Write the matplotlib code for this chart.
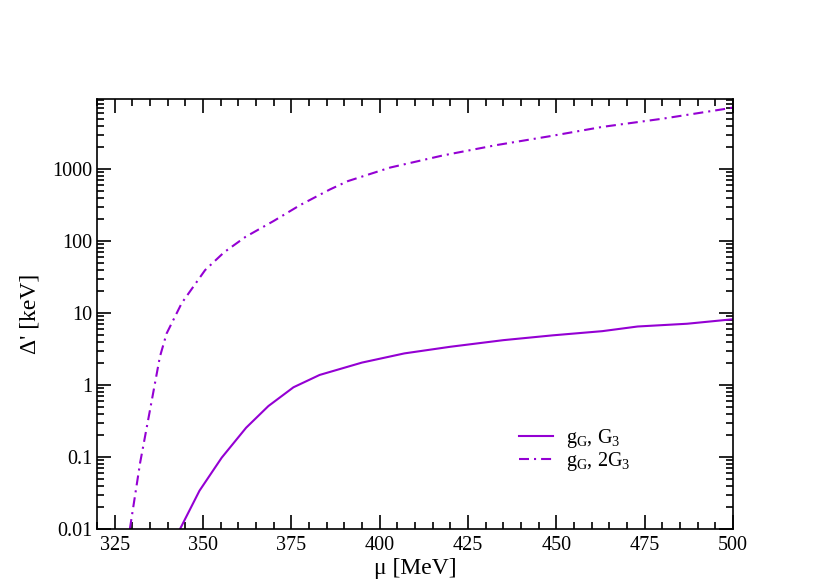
import numpy as np
import matplotlib
matplotlib.use("Agg")
import matplotlib.pyplot as plt
from matplotlib.ticker import MultipleLocator, LogLocator, FuncFormatter, NullFormatter

plt.rcParams["font.family"] = ["Liberation Serif", "DejaVu Serif"]
plt.rcParams["mathtext.fontset"] = "custom"
plt.rcParams["mathtext.rm"] = "Liberation Serif"

# curve g_G, G_3 (solid)
mu_g3 = [343.5, 349.0, 355.3, 362.2, 368.5, 375.6, 383.0, 395.0, 407.0, 420.0,
         435.0, 449.0, 463.0, 473.0, 487.0, 500.0]
d_g3 = [0.01, 0.034, 0.098, 0.255, 0.51, 0.93, 1.38, 2.05, 2.75, 3.4,
        4.2, 4.9, 5.6, 6.5, 7.1, 8.2]

# curve g_G, 2G_3 (dash-dot)
mu_2g3 = [329.3, 332.2, 335.0, 337.8, 339.7, 344.0, 350.6, 356.0, 362.0, 370.0,
          377.5, 385.9, 391.0, 403.0, 418.0, 433.0, 448.0, 463.0, 480.0, 499.0, 500.0]
d_2g3 = [0.01, 0.083, 0.45, 2.47, 5.2, 13.8, 39.5, 70.0, 114.0, 190.0,
         316.0, 520.0, 680.0, 1050.0, 1550.0, 2150.0, 2850.0, 3850.0, 5000.0, 7000.0, 7200.0]

color = "#9400d3"

fig = plt.figure(figsize=(8.3, 5.81), dpi=100)
ax = fig.add_axes([97 / 830, 1 - 529 / 581, (733 - 97) / 830, (529 - 99) / 581])

ax.plot(mu_g3, d_g3, color=color, lw=1.5, label=r"g$_\mathregular{G}$, G$_\mathregular{3}$")
ax.plot(mu_2g3, d_2g3, color=color, lw=1.5, dashes=[4.8, 2.4, 1.0, 2.4],
        label=r"g$_\mathregular{G}$, 2G$_\mathregular{3}$")

ax.set_yscale("log")
ax.set_xlim(320, 500)
ax.set_ylim(0.01, 9400)

ax.xaxis.set_major_locator(MultipleLocator(25))
ax.xaxis.set_minor_locator(MultipleLocator(5))
ax.yaxis.set_major_locator(LogLocator(base=10, numticks=20))
ax.yaxis.set_minor_locator(LogLocator(base=10, subs=np.arange(2, 10), numticks=20))
ax.yaxis.set_major_formatter(FuncFormatter(lambda v, p: "%g" % v))
ax.yaxis.set_minor_formatter(NullFormatter())

ax.tick_params(which="both", direction="in", top=True, right=True, labelsize=14.5, width=1.2)
ax.tick_params(which="major", length=10)
ax.tick_params(which="minor", length=5)
ax.tick_params(axis="x", which="major", pad=5)
for s in ax.spines.values():
    s.set_linewidth(1.2)

ax.set_xlabel("μ [MeV]", fontsize=17, labelpad=2)
ax.set_ylabel("Δ' [keV]", fontsize=17, labelpad=8)

ax.legend(loc="upper left", bbox_to_anchor=(0.648, 0.26), frameon=False, fontsize=14.5,
          handlelength=1.7, handletextpad=0.6, labelspacing=0.0, borderpad=0)

fig.savefig("out.png", dpi=100)
